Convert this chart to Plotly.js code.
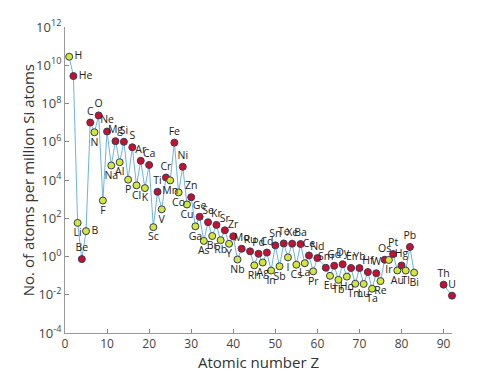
<!DOCTYPE html>
<html>
<head>
<meta charset="utf-8">
<script src="https://cdn.plot.ly/plotly-3.0.1.min.js"></script>
<style>html,body{margin:0;padding:0;background:#fff;}#chart{width:500px;height:375px;}</style>
</head>
<body>
<div id="chart"></div>
<script>
// Atomic numbers
const Z = [1,2,3,4,5,6,7,8,9,10,11,12,13,14,15,16,17,18,19,20,21,22,23,24,25,26,27,28,29,30,
  31,32,33,34,35,36,37,38,39,40,41,42,44,45,46,47,48,49,50,51,52,53,54,55,56,57,58,59,60,
  62,63,64,65,66,67,68,69,70,71,72,73,74,75,76,77,78,79,80,81,82,83,90,92];
// Element symbols
const symbols = ["H","He","Li","Be","B","C","N","O","F","Ne","Na","Mg","Al","Si","P","S","Cl","Ar","K","Ca",
  "Sc","Ti","V","Cr","Mn","Fe","Co","Ni","Cu","Zn","Ga","Ge","As","Se","Br","Kr","Rb","Sr","Y","Zr",
  "Nb","Mo","Ru","Rh","Pd","Ag","Cd","In","Sn","Sb","Te","I","Xe","Cs","Ba","La","Ce","Pr","Nd",
  "Sm","Eu","Gd","Tb","Dy","Ho","Er","Tm","Yb","Lu","Hf","Ta","W","Re","Os","Ir","Pt","Au","Hg","Tl","Pb","Bi","Th","U"];
// Abundance, atoms per 10^6 Si atoms
const abundance = [2.79e10,2.72e9,57.1,0.73,21.2,1.01e7,3.13e6,2.38e7,843,3.44e6,5.74e4,1.074e6,8.49e4,1.0e6,
  1.04e4,5.15e5,5240,1.01e5,3770,6.11e4,34.2,2400,293,1.35e4,9550,9.0e5,2250,4.93e4,522,1260,
  37.8,119,6.56,62.1,11.8,45,7.09,23.5,4.64,11.4,0.698,2.55,1.86,0.344,1.39,0.486,1.61,0.184,3.82,0.309,
  4.81,0.9,4.7,0.372,4.49,0.446,1.136,0.1669,0.8279,0.2582,0.0973,0.33,0.0603,0.3942,0.0889,0.2508,
  0.0378,0.2479,0.0367,0.154,0.0207,0.133,0.0517,0.675,0.661,1.34,0.187,0.34,0.184,3.15,0.144,0.0335,0.009];
// axis ticks
const yTicks = [1e-4,1e-2,1,1e2,1e4,1e6,1e8,1e10,1e12];
const yTickText = ["10<sup>-4</sup>","10<sup>-2</sup>","10<sup>0</sup>","10<sup>2</sup>","10<sup>4</sup>",
  "10<sup>6</sup>","10<sup>8</sup>","10<sup>10</sup>","10<sup>12</sup>"];
const xTicks = [0,10,20,30,40,50,60,70,80,90];

// line with gaps after Bi and between Th and U
const lineX = [], lineY = [];
for (let i = 0; i < Z.length; i++) {
  if (i > 0 && Z[i] - Z[i-1] > 2) { lineX.push(null); lineY.push(null); }
  lineX.push(Z[i]); lineY.push(abundance[i]);
}
const colors = Z.map(z => z % 2 === 0 ? "#c8102e" : "#cfe83a");
const special = {H:"middle right",He:"middle right",B:"middle right",Th:"top center",U:"top center"};
const positions = symbols.map((s,i) => special[s] || (Z[i] % 2 === 0 ? "top center" : "bottom center"));

const traces = [
  {x: lineX, y: lineY, mode: "lines", type: "scatter", connectgaps: false,
   line: {color: "#6cb4e2", width: 1}, hoverinfo: "skip"},
  {x: Z, y: abundance, mode: "markers+text", type: "scatter", text: symbols,
   textposition: positions, textfont: {family: "Open Sans", size: 10.5, color: "#222"},
   marker: {color: colors, size: 7, line: {color: "#3a3a55", width: 1}}, cliponaxis: false}
];

const layout = {
  width: 500, height: 375,
  margin: {l: 65, r: 48, t: 27, b: 42},
  paper_bgcolor: "#fff", plot_bgcolor: "#fff",
  showlegend: false,
  font: {family: "Open Sans", color: "#444"},
  xaxis: {range: [0, 92], tickvals: xTicks, ticks: "inside", ticklen: 4, tickcolor: "#888",
    showgrid: false, zeroline: false, showline: true, linecolor: "#999", linewidth: 1,
    tickfont: {size: 12, color: "#444"}, automargin: false,
    title: {text: "Atomic number Z", font: {size: 15, color: "#333"}, standoff: 2}},
  yaxis: {type: "log", range: [-4, 12], tickvals: yTicks, ticktext: yTickText,
    ticks: "inside", ticklen: 4, tickcolor: "#888", automargin: false,
    showgrid: false, zeroline: false, showline: true, linecolor: "#999", linewidth: 1,
    tickfont: {size: 13, color: "#444"}},
  annotations: [{text: "No. of atoms per million Si atoms", xref: "paper", yref: "paper",
    x: -0.095, y: 0.5, xanchor: "center", yanchor: "middle", textangle: -90, showarrow: false,
    font: {family: "Open Sans", size: 15, color: "#333"}}]
};
Plotly.newPlot("chart", traces, layout, {displayModeBar: false, staticPlot: true});
</script>
</body>
</html>
